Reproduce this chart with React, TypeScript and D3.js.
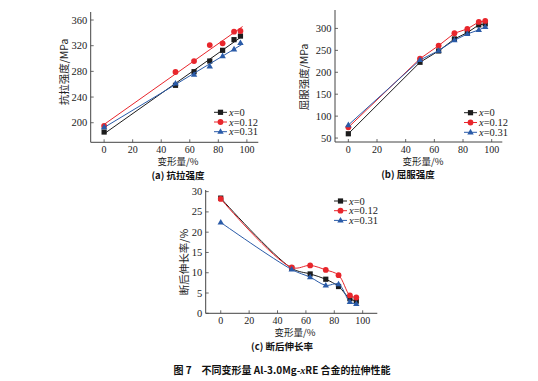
import React from "react";
import * as d3 from "d3";

// ---------- data ----------
const deformation = [0, 50, 63, 74, 83, 91, 95.5];
const seriesNames = ["0", "0.12", "0.31"];

const tensileX0 = [185.5, 258.3, 279.5, 296.1, 312.8, 329.4, 335];
const tensileX012 = [194.9, 279, 296.1, 321, 323.7, 341.8, 342.9];
const tensileX031 = [193.3, 261.4, 274.8, 287.9, 303.9, 314.4, 324.2];

const yieldX0 = [59.8, 222.8, 248.6, 276, 290.4, 308, 310.3];
const yieldX012 = [74.4, 231, 260.8, 289, 298.9, 314.8, 317];
const yieldX031 = [79.7, 228, 249.3, 273, 287.4, 296.6, 303.4];

const elongX0 = [28.4, 11.1, 9.7, 8.4, 6.6, 3.6, 3.0];
const elongX012 = [28.2, 11.3, 11.8, 10.7, 9.4, 4.4, 3.9];
const elongX031 = [22.4, 10.8, 8.9, 6.9, 7.2, 2.8, 2.3];

const xTicks = [0, 20, 40, 60, 80, 100];
const tensileTicks = [200, 240, 280, 320, 360];
const yieldTicks = [50, 100, 150, 200, 250, 300];
const elongTicks = [0, 5, 10, 15, 20, 25, 30];

const colors = ["#1c1c1c", "#e8262c", "#2a5ba8"];
const markers = ["square", "circle", "triangle"];

const NUM_FONT = "'Liberation Serif', 'DejaVu Serif', serif";
const CJK_FONT = "'Noto Sans CJK SC', sans-serif";

function Marker({ type, x, y, color }: { type: string; x: number; y: number; color: string }) {
  if (type === "square") return <rect x={x - 2.6} y={y - 2.6} width={5.2} height={5.2} fill={color} />;
  if (type === "circle") return <circle cx={x} cy={y} r={2.9} fill={color} />;
  const s = 6.4;
  const h = s * 0.866;
  return (
    <path
      d={`M${x},${y - h * 0.62}L${x + s / 2},${y + h * 0.38}L${x - s / 2},${y + h * 0.38}Z`}
      fill={color}
    />
  );
}

type PanelProps = {
  xDom: [number, number];
  xRange: [number, number];
  yDom: [number, number];
  yRange: [number, number];
  yTicks: number[];
  data: number[][];
  mode: "fit" | "line" | "curve";
  legend: { x: number; y: number; dy: number };
  yLabel: string;
  yLabelPos: [number, number];
  xLabelPos: [number, number];
  caption: string;
  captionPos: [number, number];
};

function fitLine(xs: number[], ys: number[]) {
  const mx = d3.mean(xs)!;
  const my = d3.mean(ys)!;
  let sxy = 0;
  let sxx = 0;
  xs.forEach((x, i) => {
    sxy += (x - mx) * (ys[i] - my);
    sxx += (x - mx) * (x - mx);
  });
  const b = sxy / sxx;
  const a = my - b * mx;
  return (x: number) => a + b * x;
}

function Panel(p: PanelProps) {
  const xs = d3.scaleLinear().domain(p.xDom).range(p.xRange);
  const ys = d3.scaleLinear().domain(p.yDom).range(p.yRange);
  const x0 = p.xRange[0];
  const x1 = p.xRange[1];
  const yb = p.yRange[0];
  const yt = p.yRange[1];
  const axisColor = "#444";

  const lineGen = d3
    .line<[number, number]>()
    .x((d) => xs(d[0]))
    .y((d) => ys(d[1]))
    .curve(p.mode === "curve" ? d3.curveCatmullRom.alpha(0.5) : d3.curveLinear);

  return (
    <g>
      {/* series */}
      {p.data.map((vals, si) => {
        let path: string | null;
        if (p.mode === "fit") {
          const f = fitLine(deformation, vals);
          path = lineGen([
            [0, f(0)],
            [97, f(97)],
          ]);
        } else {
          path = lineGen(deformation.map((d, i) => [d, vals[i]] as [number, number]));
        }
        return (
          <g key={si}>
            <path d={path || ""} fill="none" stroke={colors[si]} strokeWidth={1} />
            {vals.map((v, i) => (
              <Marker key={i} type={markers[si]} x={xs(deformation[i])} y={ys(v)} color={colors[si]} />
            ))}
          </g>
        );
      })}
      {/* axes */}
      <line x1={x0} x2={x1} y1={yb} y2={yb} stroke={axisColor} strokeWidth={1} />
      <line x1={x0} x2={x0} y1={yb} y2={yt} stroke={axisColor} strokeWidth={1} />
      {xTicks.map((t) => (
        <g key={"x" + t}>
          <line x1={xs(t)} x2={xs(t)} y1={yb} y2={yb - 3} stroke={axisColor} strokeWidth={0.8} />
          <text
            x={xs(t)}
            y={yb + 10.8}
            textAnchor="middle"
            fontSize={10}
            fontFamily={NUM_FONT}
            fill="#222"
          >
            {t}
          </text>
        </g>
      ))}
      {p.yTicks.map((t) => (
        <g key={"y" + t}>
          <line x1={x0} x2={x0 + 3} y1={ys(t)} y2={ys(t)} stroke={axisColor} strokeWidth={0.8} />
          <text
            x={x0 - 3.5}
            y={ys(t) + 3.5}
            textAnchor="end"
            fontSize={10.5}
            fontFamily={NUM_FONT}
            fill="#222"
          >
            {t}
          </text>
        </g>
      ))}
      {/* labels */}
      <text
        transform={`translate(${p.yLabelPos[0]},${p.yLabelPos[1]}) rotate(-90)`}
        textAnchor="middle"
        fontSize={10.5}
        fontFamily={CJK_FONT}
        fill="#222"
        dominantBaseline="middle"
      >
        {p.yLabel}
      </text>
      <text
        x={p.xLabelPos[0]}
        y={p.xLabelPos[1]}
        textAnchor="middle"
        fontSize={9.5}
        fontFamily={CJK_FONT}
        fill="#222"
        dominantBaseline="middle"
      >
        变形量/%
      </text>
      <text
        x={p.captionPos[0]}
        y={p.captionPos[1]}
        textAnchor="middle"
        fontSize={9.5}
        fontWeight="bold"
        fontFamily={CJK_FONT}
        fill="#111"
        dominantBaseline="middle"
      >
        {p.caption}
      </text>
      {/* legend */}
      {seriesNames.map((n, i) => {
        const ly = p.legend.y + i * p.legend.dy;
        const lx = p.legend.x;
        return (
          <g key={"l" + i}>
            <line x1={lx} x2={lx + 13} y1={ly} y2={ly} stroke={colors[i]} strokeWidth={1} />
            <Marker type={markers[i]} x={lx + 6.5} y={ly} color={colors[i]} />
            <text x={lx + 15} y={ly + 3.6} fontSize={10.5} fontFamily={NUM_FONT} fill="#222">
              <tspan fontStyle="italic">x</tspan>={n}
            </text>
          </g>
        );
      })}
    </g>
  );
}

export default function App() {
  return (
    <svg
      width={538}
      height={381}
      style={{ position: "absolute", left: 0, top: 0, background: "#fff" }}
    >
      <rect width={538} height={381} fill="#fff" />
      <Panel
        xDom={[-9.4, 108]}
        xRange={[90.7, 258.3]}
        yDom={[169.5, 372.5]}
        yRange={[142.3, 12]}
        yTicks={tensileTicks}
        data={[tensileX0, tensileX012, tensileX031]}
        mode="fit"
        legend={{ x: 214, y: 112.3, dy: 9.7 }}
        yLabel="抗拉强度/MPa"
        yLabelPos={[65, 72]}
        xLabelPos={[178, 162.5]}
        caption="(a) 抗拉强度"
        captionPos={[178, 176]}
      />
      <Panel
        xDom={[-9.3, 107.4]}
        xRange={[335, 502.3]}
        yDom={[41, 342]}
        yRange={[142, 10]}
        yTicks={yieldTicks}
        data={[yieldX0, yieldX012, yieldX031]}
        mode="line"
        legend={{ x: 464, y: 112.7, dy: 9.8 }}
        yLabel="屈服强度/MPa"
        yLabelPos={[305, 77]}
        xLabelPos={[423, 162.5]}
        caption="(b) 屈服强度"
        captionPos={[408, 175.5]}
      />
      <Panel
        xDom={[-10.6, 110.3]}
        xRange={[205.7, 377.3]}
        yDom={[0, 30.4]}
        yRange={[313.3, 190]}
        yTicks={elongTicks}
        data={[elongX0, elongX012, elongX031]}
        mode="curve"
        legend={{ x: 334, y: 201, dy: 9.7 }}
        yLabel="断后伸长率/%"
        yLabelPos={[185, 262]}
        xLabelPos={[295, 333.5]}
        caption="(c) 断后伸长率"
        captionPos={[282, 347.5]}
      />
      <text
        x={282}
        y={371.5}
        textAnchor="middle"
        dominantBaseline="middle"
        fontSize={10}
        fontWeight="bold"
        fontFamily={CJK_FONT}
        fill="#111"
      >
        图 7　不同变形量 Al-3.0Mg-<tspan fontStyle="italic" fontFamily={NUM_FONT}>x</tspan>RE 合金的拉伸性能
      </text>
    </svg>
  );
}
